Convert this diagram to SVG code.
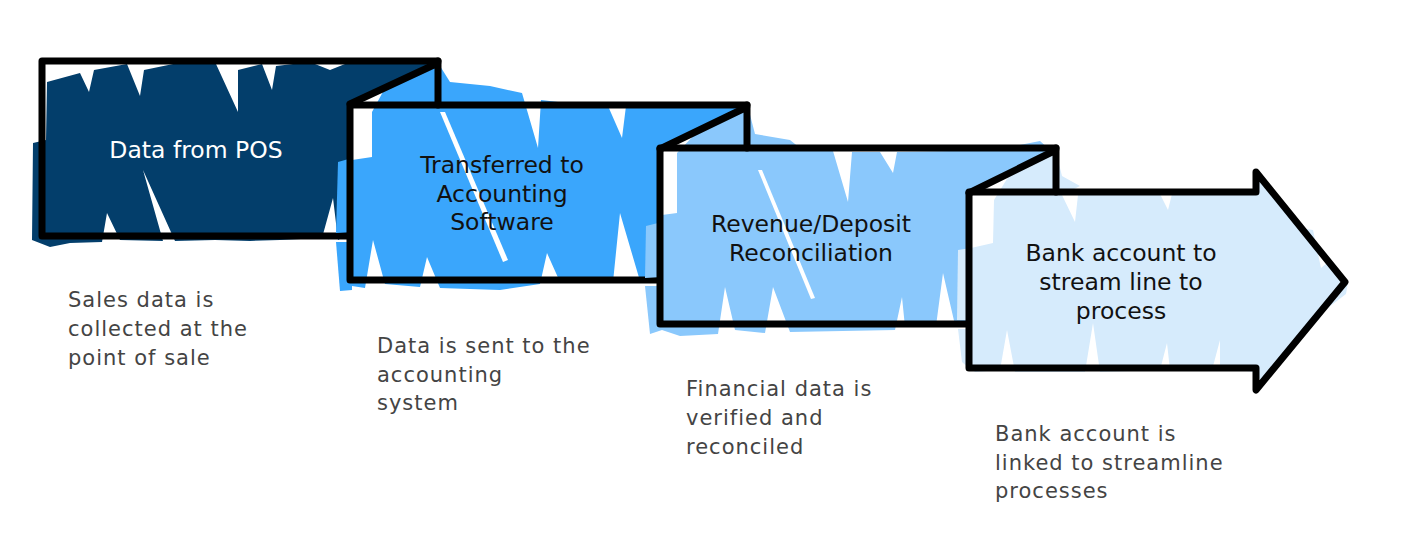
<svg xmlns="http://www.w3.org/2000/svg" width="1409" height="533" viewBox="0 0 1409 533">
<style>
.ol{fill:none;stroke:#000;stroke-width:7;stroke-linejoin:round;stroke-linecap:round}
.base{fill:#fff}
.gap{fill:#fff}
.lbl{font-family:'DejaVu Sans',sans-serif;font-size:23.5px;text-anchor:middle;fill:#111}
.cap{font-family:'DejaVu Sans',sans-serif;font-size:21px;letter-spacing:1px;fill:#444}
.c1{fill:#033E6B}.c2{fill:#3AA6FC}.c3{fill:#8AC8FC}.c4{fill:#D6EBFC}
</style>
<rect width="1409" height="533" fill="#fff"/>

<g id="node-pos">
  <polygon class="c1" points="47,82 80,73 89,92 94,70 127,64 140,96 144,70 178,63 205,62 216,64 238,112 238,70 262,64 272,90 276,66 310,62 330,70 345,64 380,63 420,62 438,62 438,234 345,236 338,240 333,198 322,238 280,240 250,241 215,240 175,241 143,170 163,241 120,240 107,213 102,242 70,243 50,247 32,240 33,143 46,140"/>
  <path class="ol" d="M350,236 L42,236 L42,61 L438,61"/>
  <text class="lbl" x="196" y="158" style="fill:#fff">Data from POS</text>
</g>

<g id="node-accounting">
  <polygon class="base" points="350,104 438,63 438,105 747,105 747,280 350,280"/>
  <polygon class="c2" points="372,112 385,88 440,66 450,82 490,86 522,93 538,148 541,100 575,104 608,106 622,138 626,106 650,104 690,105 745,104 745,278 640,281 620,213 613,282 560,282 547,253 540,284 500,290 440,288 427,257 420,287 385,284 373,240 365,288 352,286 352,160 372,157"/>
  <polygon class="c2" points="338,162 352,158 352,232 336,233"/>
  <polygon class="c2" points="336,242 352,242 352,290 340,291"/>
  <polygon class="gap" points="440,112 445,112 508,260 503,262"/>
  <path class="ol" d="M660,280 L350,280 L350,105 L747,105"/>
  <text class="lbl" x="502" y="173">Transferred to</text>
  <text class="lbl" x="502" y="202">Accounting</text>
  <text class="lbl" x="502" y="230">Software</text>
</g>

<g id="node-reconciliation">
  <polygon class="base" points="660,149 747,107 747,148 1056,148 1056,324 660,324"/>
  <polygon class="c3" points="677,153 700,129 748,107 755,134 790,140 800,148 833,151 848,202 852,152 880,152 893,173 897,152 950,151 1000,150 1055,150 1055,322 955,325 943,273 936,326 905,327 902,297 895,330 790,332 773,287 765,333 735,330 725,287 718,334 680,336 662,330 662,215 677,213"/>
  <polygon class="c3" points="646,226 662,222 662,277 645,278"/>
  <polygon class="c3" points="645,286 662,286 662,330 650,334"/>
  <polygon class="c3" points="1015,146 1040,141 1050,150 1020,152"/>
  <polygon class="gap" points="758,170 762,170 815,298 811,299"/>
  <path class="ol" d="M969,324 L660,324 L660,148 L1056,148"/>
  <text class="lbl" x="811" y="232">Revenue/Deposit</text>
  <text class="lbl" x="811" y="261">Reconciliation</text>
</g>

<g id="node-bank">
  <polygon class="base" points="969,193 1056,150 1056,192 1256,192 1256,172 1345,282 1256,390 1256,368 969,368"/>
  <polygon class="c4" points="994,200 1010,174 1056,152 1062,176 1080,186 1062,195 1075,222 1078,195 1160,194 1168,210 1172,194 1250,194 1255,185 1262,180 1300,228 1313,230 1321,268 1328,262 1348,282 1346,294 1312,320 1285,356 1262,382 1255,372 1220,368 1220,340 1212,370 1170,370 1167,343 1160,370 1100,372 1093,323 1085,372 1015,372 1007,330 1000,370 975,372 971,368 971,248 993,243"/>
  <polygon class="c4" points="958,250 971,248 971,320 957,320"/>
  <polygon class="c4" points="958,329 971,329 971,370 962,362"/>
  <path class="ol" d="M969,192 L1256,192 L1256,172 L1345,282 L1256,390 L1256,368 L969,368 Z"/>
  <text class="lbl" x="1121" y="261">Bank account to</text>
  <text class="lbl" x="1121" y="290">stream line to</text>
  <text class="lbl" x="1121" y="319">process</text>
</g>

<g id="connectors">
  <path class="ol" d="M438,61 L438,105 M438,63 L350,104"/>
  <path class="ol" d="M747,105 L747,148 M747,107 L660,149"/>
  <path class="ol" d="M1056,148 L1056,192 M1056,150 L969,193"/>
</g>

<g id="captions">
  <text class="cap" x="68" y="307">Sales data is</text>
  <text class="cap" x="68" y="336">collected at the</text>
  <text class="cap" x="68" y="365">point of sale</text>
  <text class="cap" x="377" y="353">Data is sent to the</text>
  <text class="cap" x="377" y="382">accounting</text>
  <text class="cap" x="377" y="410">system</text>
  <text class="cap" x="686" y="396">Financial data is</text>
  <text class="cap" x="686" y="425">verified and</text>
  <text class="cap" x="686" y="454">reconciled</text>
  <text class="cap" x="995" y="441">Bank account is</text>
  <text class="cap" x="995" y="470">linked to streamline</text>
  <text class="cap" x="995" y="498">processes</text>
</g>
</svg>
